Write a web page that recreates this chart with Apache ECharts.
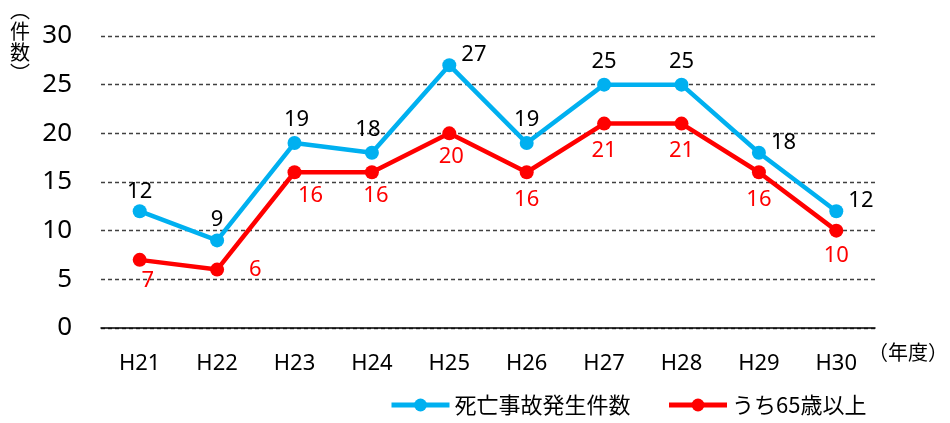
<!DOCTYPE html>
<html>
<head>
<meta charset="utf-8">
<script src="https://cdn.jsdelivr.net/npm/echarts@6/dist/echarts.min.js"></script>
<style>
  html, body { margin: 0; padding: 0; background: #fff; }
  #chart { width: 950px; height: 423px; }
</style>
</head>
<body>
<div id="chart"></div>
<script>
const years = ["H21", "H22", "H23", "H24", "H25", "H26", "H27", "H28", "H29", "H30"];
const deaths = [12, 9, 19, 18, 27, 19, 25, 25, 18, 12];
const elderly = [7, 6, 16, 16, 20, 16, 21, 21, 16, 10];
const seriesNames = ["死亡事故発生件数", "うち65歳以上"];

// label placement per point (style only)
const blueLabelPos = ["top", "top", "top", "top", "right", "top", "top", "top", "right", "right"];
const blueOffset = [[0, 4], [0, 2], [2, 0], [-4, 0], [0, -10], [0, 0], [0, 0], [0, 0], [0, -10], [0, -10]];
const redLabelPos = ["bottom", "right", "bottom", "bottom", "bottom", "bottom", "bottom", "bottom", "bottom", "bottom"];
const redOffset = [[8, -2], [20, 0], [16, 0], [4, 0], [2, 0], [0, 4], [0, 4], [0, 4], [0, 4], [0, 2]];

const FONT = '"Noto Sans CJK JP", "Noto Sans", sans-serif';
const NUM_FONT = '"Noto Sans", sans-serif';

function buildData(values, pos, off) {
    return values.map((v, i) => ({
        value: v,
        label: { position: pos[i], offset: off[i] }
    }));
}

const chart = echarts.init(document.getElementById("chart"));

chart.setOption({
    animation: false,
    textStyle: { fontFamily: FONT },
    grid: { left: 101, right: 75, top: 36, bottom: 95 },
    legend: {
        bottom: 2,
        left: 384,
        itemWidth: 58,
        itemHeight: 16,
        itemGap: 36,
        lineStyle: { width: 5 },
        textStyle: { fontSize: 22, color: "#000", fontFamily: FONT },
        data: seriesNames
    },
    xAxis: {
        type: "category",
        data: years,
        axisLine: { lineStyle: { color: "#000", width: 1.5 } },
        axisTick: { show: false },
        axisLabel: { color: "#000", fontSize: 22, margin: 25, fontFamily: NUM_FONT }
    },
    yAxis: {
        type: "value",
        min: 0,
        max: 30,
        interval: 5,
        axisLine: { show: false },
        axisTick: { show: false },
        axisLabel: { color: "#000", fontSize: 26, margin: 29, fontFamily: NUM_FONT },
        splitLine: { lineStyle: { color: "#404040", type: [4, 3], width: 1.3 } }
    },
    graphic: [
        {
            type: "text",
            left: 10,
            top: 0,
            style: {
                text: "︵\n件\n数\n︶",
                font: '20px "Noto Sans CJK JP"',
                lineHeight: 21,
                fill: "#000"
            }
        },
        {
            type: "text",
            left: 868,
            top: 342,
            style: {
                text: "（年度）",
                font: '20px "Noto Sans CJK JP"',
                fill: "#000"
            }
        }
    ],
    series: [
        {
            name: seriesNames[0],
            type: "line",
            data: buildData(deaths, blueLabelPos, blueOffset),
            color: "#00B0F0",
            lineStyle: { width: 4.5 },
            symbol: "circle",
            symbolSize: 14,
            z: 3,
            label: {
                show: true,
                color: "#000",
                fontSize: 22,
                distance: 5,
                fontFamily: NUM_FONT
            }
        },
        {
            name: seriesNames[1],
            type: "line",
            data: buildData(elderly, redLabelPos, redOffset),
            color: "#FF0000",
            lineStyle: { width: 4.5 },
            symbol: "circle",
            symbolSize: 14,
            z: 4,
            label: {
                show: true,
                color: "#FF0000",
                fontSize: 22,
                distance: 5,
                fontFamily: NUM_FONT
            }
        }
    ]
});
</script>
</body>
</html>
